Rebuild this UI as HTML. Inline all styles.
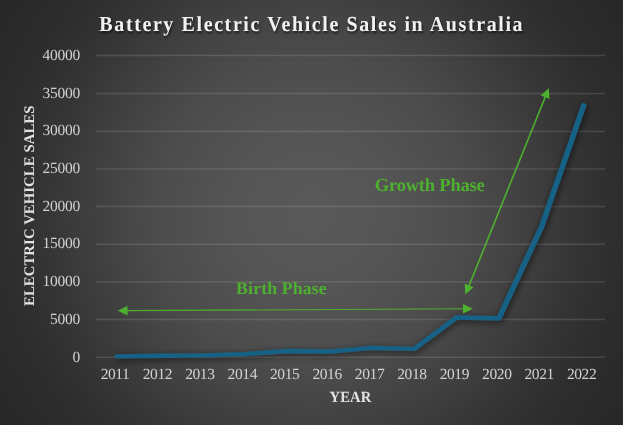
<!DOCTYPE html>
<html lang="en">
<head>
<meta charset="utf-8">
<title>Battery Electric Vehicle Sales in Australia</title>
<style>
  html, body { margin:0; padding:0; }
  body { width:623px; height:425px; overflow:hidden; background:#262626;
         font-family:"Liberation Serif", serif; }
  #chart { position:relative; width:623px; height:425px; overflow:hidden;
    background: radial-gradient(circle 376px at 311.5px 212.5px,
      #595959 0px, #555555 78px, #4c4c4c 155px, #414141 212px,
      #363636 260px, #2d2d2d 311px, #272727 376px); }
  #chart svg { position:absolute; left:0; top:0; }
  .t { position:absolute; white-space:nowrap; line-height:1; }
  #txt { position:absolute; left:0; top:0; width:623px; height:425px; will-change:transform; text-rendering:geometricPrecision; filter:blur(0.3px); }
  .title { left:0.3px; width:623px; top:14.0px; transform-origin:0 0; transform:scaleY(1.068); text-align:center; font-weight:bold;
     font-size:20px; letter-spacing:1.6px; color:#f2f2f2;
     text-shadow: 1px 1.4px 2px rgba(0,0,0,0.6); }
  .ytick { width:60px; text-align:right; left:20.1px; font-size:15.5px; color:#d2d2d2; letter-spacing:-0.25px; }
  .xtick { width:60px; text-align:center; font-size:15.5px; color:#d2d2d2; letter-spacing:-0.4px; }
  .axt { font-weight:bold; font-size:14.67px; color:#e3e3e3; letter-spacing:0.13px; }
  .ann { font-weight:bold; font-size:17.7px; letter-spacing:0.17px; color:#4eb02f; }
</style>
</head>
<body>
<div id="chart">
<svg width="623" height="425" viewBox="0 0 623 425">
  <defs>
    <filter id="sh" x="-10%" y="-10%" width="120%" height="120%">
      <feGaussianBlur in="SourceAlpha" stdDeviation="3.6" result="b"/>
      <feOffset in="b" dx="0.5" dy="2.2" result="o"/>
      <feComponentTransfer in="o" result="s"><feFuncA type="linear" slope="0.66"/></feComponentTransfer>
      <feMerge><feMergeNode in="s"/><feMergeNode in="SourceGraphic"/></feMerge>
    </filter>
  </defs>
  <g stroke="#ffffff" stroke-opacity="0.125" stroke-width="1.35" fill="none">
    <line x1="96.0" y1="357.20" x2="605.0" y2="357.20"/>
    <line x1="96.0" y1="319.50" x2="605.0" y2="319.50"/>
    <line x1="96.0" y1="281.90" x2="605.0" y2="281.90"/>
    <line x1="96.0" y1="244.20" x2="605.0" y2="244.20"/>
    <line x1="96.0" y1="206.50" x2="605.0" y2="206.50"/>
    <line x1="96.0" y1="168.80" x2="605.0" y2="168.80"/>
    <line x1="96.0" y1="131.50" x2="605.0" y2="131.50"/>
    <line x1="96.0" y1="93.50" x2="605.0" y2="93.50"/>
    <line x1="96.0" y1="55.50" x2="605.0" y2="55.50"/>
  </g>
  <g filter="url(#sh)">
  <polyline points="91.57,356.34 124.71,355.74 157.85,355.36 190.98,354.08 224.12,350.99 257.26,351.52 290.40,347.97 323.54,348.95 356.67,317.50 389.81,318.26 422.95,227.20 456.09,105.27" fill="none" stroke="#166287" stroke-width="4.3" stroke-linecap="round" stroke-linejoin="round" transform="scale(1.28,1)"/>
  </g>
  <line x1="125.64" y1="310.61" x2="464.96" y2="308.74" stroke="#4eb02f" stroke-width="1.05"/>
  <polygon points="117.80,310.65 127.63,315.40 127.57,305.80" fill="#4eb02f"/>
  <polygon points="472.80,308.70 463.03,313.55 462.97,303.95" fill="#4eb02f"/>
  <line x1="468.34" y1="287.33" x2="545.86" y2="95.47" stroke="#4eb02f" stroke-width="1.6"/>
  <polygon points="465.40,294.60 473.52,287.31 464.62,283.72" fill="#4eb02f"/>
  <polygon points="548.80,88.20 549.58,99.08 540.68,95.49" fill="#4eb02f"/>
</svg>
<div id="txt">
<div class="t title">Battery Electric Vehicle Sales in Australia</div>
<div class="t ytick" style="top:349.60px">0</div>
<div class="t ytick" style="top:311.89px">5000</div>
<div class="t ytick" style="top:274.18px">10000</div>
<div class="t ytick" style="top:236.47px">15000</div>
<div class="t ytick" style="top:198.76px">20000</div>
<div class="t ytick" style="top:161.05px">25000</div>
<div class="t ytick" style="top:123.34px">30000</div>
<div class="t ytick" style="top:85.63px">35000</div>
<div class="t ytick" style="top:47.92px">40000</div>
<div class="t xtick" style="left:85.06px; top:367.15px">2011</div>
<div class="t xtick" style="left:127.47px; top:367.15px">2012</div>
<div class="t xtick" style="left:169.89px; top:367.15px">2013</div>
<div class="t xtick" style="left:212.31px; top:367.15px">2014</div>
<div class="t xtick" style="left:254.72px; top:367.15px">2015</div>
<div class="t xtick" style="left:297.14px; top:367.15px">2016</div>
<div class="t xtick" style="left:339.56px; top:367.15px">2017</div>
<div class="t xtick" style="left:381.98px; top:367.15px">2018</div>
<div class="t xtick" style="left:424.39px; top:367.15px">2019</div>
<div class="t xtick" style="left:466.81px; top:367.15px">2020</div>
<div class="t xtick" style="left:509.23px; top:367.15px">2021</div>
<div class="t xtick" style="left:551.64px; top:367.15px">2022</div>
<div class="t axt" style="left:329.5px; top:390.1px; transform-origin:0 0; transform:scaleY(1.06)">YEAR</div>
<div class="t axt" id="ylab" style="left:23.2px; top:305.6px; transform-origin:0 0; transform:rotate(-90deg)">ELECTRIC VEHICLE SALES</div>
<div class="t ann" style="left:374.8px; top:176.9px; font-size:18.5px; letter-spacing:-0.2px">Growth Phase</div>
<div class="t ann" style="left:236.1px; top:280.2px">Birth Phase</div>
</div>
</div>
</body>
</html>
